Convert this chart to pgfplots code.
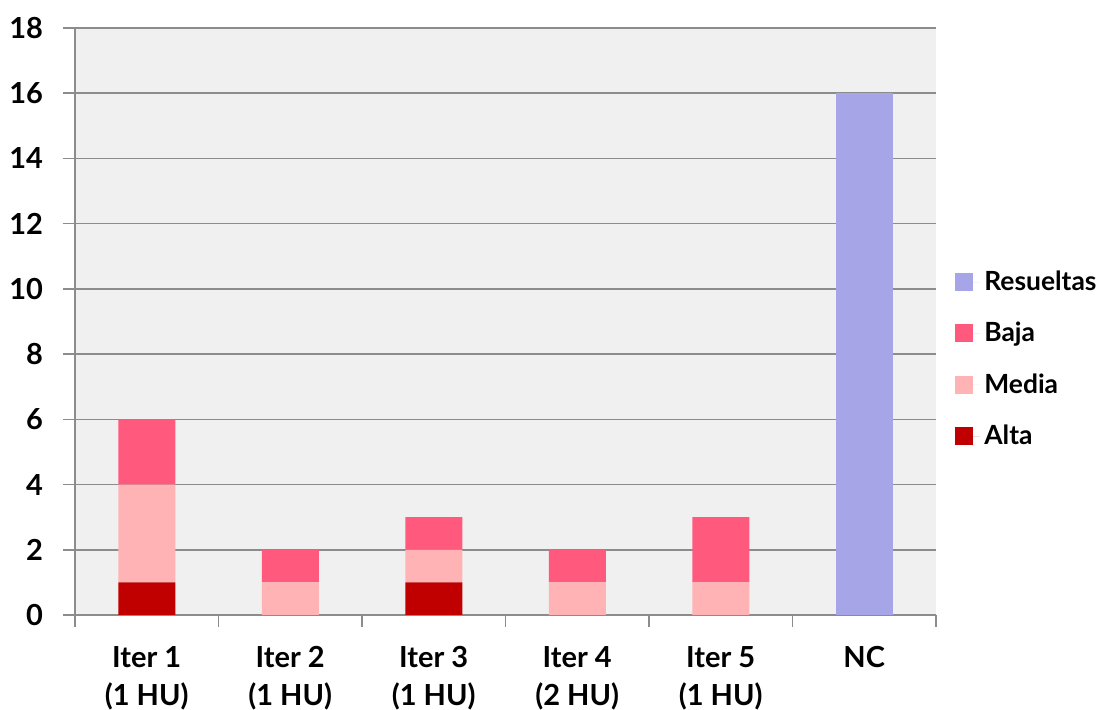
\documentclass[border=0pt]{standalone}
\usepackage{pgfplots}
\pgfplotsset{compat=1.18}
\usepackage{fontspec}
\setmainfont{Lato}
\definecolor{cRes}{HTML}{A5A5E8}
\definecolor{cBaja}{HTML}{FF5A7D}
\definecolor{cMedia}{HTML}{FFB3B5}
\definecolor{cAlta}{HTML}{C00000}
\definecolor{cGrid}{HTML}{8C8C8C}
\definecolor{cBg}{HTML}{F0F0F0}
\begin{document}
\begin{tikzpicture}
\useasboundingbox (-37.5pt,-47.5pt) rectangle (519pt,307.5pt);
\begin{axis}[
  at={(0,0)}, anchor=south west,
  scale only axis, width=430.5pt, height=293.5pt,
  ybar stacked, bar width=28.5pt,
  xmin=-0.5, xmax=5.5, ymin=0, ymax=18,
  ytick={0,2,...,18},
  xtick={-0.5,0.5,...,5.5}, xticklabels={},
  extra x ticks={0,1,2,3,4,5},
  extra x tick labels={{Iter 1\\(1 HU)},{Iter 2\\(1 HU)},{Iter 3\\(1 HU)},{Iter 4\\(2 HU)},{Iter 5\\(1 HU)},{NC}},
  extra x tick style={major tick length=0pt, xticklabel style={align=center, font=\bfseries\fontsize{14.5}{19}\selectfont, yshift=-12pt, anchor=north}},
  axis x line*=bottom, axis y line*=left,
  axis line style={cGrid, line width=0.8pt, -},
  tick align=outside, major tick length=6pt,
  tick style={cGrid, line width=0.8pt},
  ymajorgrids, grid style={cGrid, line width=0.8pt},
  axis background/.style={fill=cBg},
  /pgf/number format/assume math mode=true,
  yticklabel style={font=\bfseries\fontsize{14.5}{17}\selectfont, xshift=-6.5pt},
  legend reversed, legend cell align=left,
  legend style={at={(rel axis cs:1.022,0.594)}, anchor=north west, draw=none, fill=none,
    font=\bfseries\fontsize{13.2}{15}\selectfont, row sep=10.4pt, inner sep=0pt},
  legend image code/.code={\fill[#1] (0pt,-4.5pt) rectangle (9pt,4.5pt); \path (0pt,0pt) -- (12.5pt,0pt);},
]
\addplot[fill=cAlta, draw=none] coordinates {(0,1) (1,0) (2,1) (3,0) (4,0) (5,0)};
\addlegendentry{Alta}
\addplot[fill=cMedia, draw=none] coordinates {(0,3) (1,1) (2,1) (3,1) (4,1) (5,0)};
\addlegendentry{Media}
\addplot[fill=cBaja, draw=none] coordinates {(0,2) (1,1) (2,1) (3,1) (4,2) (5,0)};
\addlegendentry{Baja}
\addplot[fill=cRes, draw=none] coordinates {(0,0) (1,0) (2,0) (3,0) (4,0) (5,16)};
\addlegendentry{Resueltas}
\end{axis}
\end{tikzpicture}
\end{document}
